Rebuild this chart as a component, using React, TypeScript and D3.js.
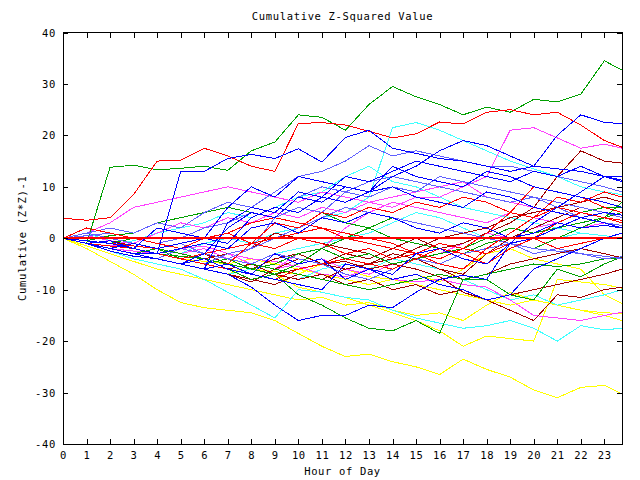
import React from 'react';
import * as d3 from 'd3';

// hour of day for every sample (last sample is 23:45)
const HOURS = [0, 1, 2, 3, 4, 5, 6, 7, 8, 9, 10, 11, 12, 13, 14, 15, 16, 17, 18, 19, 20, 21, 22, 23, 23.75];
const X_TICKS = d3.range(0, 24);
const Y_TICKS = [-40, -30, -20, -10, 0, 10, 20, 30, 40];

// cumulative (z*z)-1 per series
const green1 = [0, -1, 13.8, 14.2, 13.3, 13.6, 14, 13.2, 17, 18.7, 24, 23.5, 21, 26, 29.5, 27.5, 26, 24, 25.5, 24.5, 27, 26.5, 28, 34.5, 32.7];
const red1 = [3.9, 3.5, 4, 8.5, 15, 15.2, 17.5, 16, 14, 13, 22.3, 22.5, 22, 20.8, 19.5, 20.3, 22.6, 22.2, 24.5, 25, 24, 24.5, 22, 19, 17.7];
const blue1 = [0, -1, -2, -3, -3, 13, 13, 15.5, 16.3, 15.5, 17.4, 14.8, 19.6, 21, 17.5, 16.5, 15.5, 15, 14, 13, 14, 13.5, 13, 12, 11.3];
const blue2 = [0, -1, -2.5, -3.5, -4, -5, -3, 2, 5, 4, 8, 7, 10, 9, 12, 14, 17, 19, 18, 16, 14, 20, 24, 22.5, 22.3];
const cyan1 = [0, -1, -2, -3, -2, -3, -1, 0, -1, 1, 2, 4, 5, 8, 21.5, 22.5, 21, 19, 17, 15, 13.5, 12, 10, 9, 8.5];
const magenta1 = [0, 1, 0, -1, 1, 3, 2, 4, 3, 5, 4, 6, 5, 7, 6, 8, 8, 10, 12, 21, 21.5, 19.5, 17.5, 18.3, 17.5];
const slate1 = [0, 1, 2, 1, 3, 2, 5, 7, 6, 9, 12, 13, 15, 18, 16, 17, 16, 15, 14, 14, 13, 12, 11, 10, 9];
const blue3 = [0, -1, -2, -1, -2, -1, 0, 6, 10, 8, 12, 11, 10, 9, 14, 12, 11, 10, 13, 12, 10, 9, 8, 7, 6];
const darkred1 = [0, -1, -2, -3, -4, -5, -6, -7, -8, -7, -6, -5, -3, -4, -2, 0, -2, -1, 1, 3, 6, 12, 17, 15, 14.6];
const red2 = [0, -0.5, -1, -1.5, -2, -1, 0, 1, 3, 4, 3, 2, 1, 0, -1, -3, -5, -6, -2, 1, 4, 8, 7, 9, 8];
const green2 = [0, -1, -2, -3, -2, -4, -5, -4, -6, -5, -3, -2, -4, -3, -5, -4, -3, -2, 0, 2, 1, 3, 5, 6, 6];
const magenta2 = [0, -1, -1.5, -1, -2, -3, -2, -4, -5, -6, -3, -2, 2, 5, 7, 6, 5, 4, 3, 5, 4, 3, 2, 3, 2.5];
const blue4 = [0, -1, -0.5, -2, -3, -2, -1, -2, 2, 3, 1, 4, 3, 5, 4, 2, 1, 3, 2, 0, 1, 3, 2, 2.5, 2];
const cyan2 = [0, 1, -0.5, -1, -2, -3, -2, -4, -5, -3, -2, -1, 0, 1, 3, 5, 4, 2, 0, -1, -2, 0, 1, 0.5, 0];
const red3 = [0, 2, 1, 0, -1, -2, 0, 1, -1, -2, 0, -1, -3, -2, -4, -3, -1, -2, -3, -1, 0, -2, -1, 0, 1];
const darkred2 = [0, -0.5, -1, -2, -3, -4, -3, -5, -6, -4, -3, -5, -6, -5, -4, -2, 0, 1, 2, 4, 5, 6, 7, 8, 7];
const slate2 = [0, 1, 0, -1, -2, -1, -3, -4, -5, -3, -4, -5, -7, -8, -6, -4, -5, -3, -2, -1, -3, -2, -3, -4, -3.6];
const green3 = [0, -0.5, -1, 0, -1, -2, -3, -4, -5, -6, -7, -8, -9, -10, -9, -8, -7, -8, -7, -6, -5, -5.5, -5, -4, -3.9];
const darkred3 = [0, -1, -2, -3, -4, -5, -4, -6, -5, -7, -8, -7, -9, -8, -10, -9, -11, -10, -12, -11, -10, -9, -8, -7, -6];
const blue5 = [0, -1, -2, -3, -4, -5, -6, -7, -9.5, -13, -16, -15, -15, -13, -13.5, -10.5, -8, -7.2, -8, -1, 0, 2, 4, 5, 4.5];
const green4 = [0, -1, -1.5, -2, -3, -3.5, -4, -6, -8, -7, -11, -13, -15.5, -17.5, -18, -16, -18.5, -8, -8, -11, -12, -6, -7.5, -5, -3.6];
const cyan3 = [0, -1, -2.5, -4, -5, -6, -8, -10.5, -13, -15.5, -10, -10.5, -11.5, -12, -14, -15.5, -16.5, -17.5, -17, -16, -17.5, -20, -17, -17.8, -17.5];
const yellow1 = [0, -2, -4.5, -7, -10, -12.5, -13.5, -14, -14.5, -16, -18.5, -21, -23, -22.5, -24, -25, -26.5, -23.5, -25.5, -27, -29.5, -31, -29, -28.6, -30.3];
const yellow2 = [0, -1, -2, -3, -4, -5, -6, -7, -5, -7, -9.5, -10.5, -11.5, -13, -14.5, -16, -18, -21, -19, -19.5, -20, -8, -8.5, -9, -9.7];
const yellow3 = [0, -1.5, -3, -4.5, -6, -7, -8, -9, -10, -11, -12, -11.5, -13, -12.5, -14, -15, -14.5, -16, -13, -10.5, -12, -13, -14, -15, -16];
const magenta3 = [0, -1, -2, -2.5, -3, -2, -1.5, -3, -4, -4.5, -5.5, -7, -7.5, -6, -8, -8.5, -8, -9, -9.5, -12, -15, -15.5, -16, -15, -14.4];
const darkred4 = [0, -1, -2, -3, -4, -5, -6, -7, -8.5, -6, -4, -5, -4.5, -6, -5, -6, -7.5, -10.5, -12, -14, -16, -11, -11.5, -10, -9.5];
const yellow4 = [0, -0.5, -1, -2, -3, -4, -4.5, -5, -6, -6.5, -7, -5, -6, -7.5, -8, -7, -8.5, -6, -3, -2, -4, -5, -6, -11, -12.7];
const cyan4 = [0, -1, -2, -3, -4, -5, -6, -7, -6, -7, -8, -6, -5, -6, -4, -5, -6, -8, -10, -12, -11, -13, -12, -11, -10];
const blue6 = [0, -0.5, -1, -2, 2, 1, 0, -1, 4, 6, 5, 8, 7, 9, 10, 8, 7, 6, 9, 8, 6, 5, 4, 3, 2];
const slate3 = [0, 0.5, 1, 0, -1, 0, 2, 3, 5, 4, 8, 10, 9, 11, 12, 11, 10, 9, 8, 7, 8, 6, 4, 3, 2.5];
const red4 = [0, -1, -1.5, -2, -3, -4, -3, -2, -1, 0, 1, 2, 0, -1, -2, -3, -4, -2, 1, 5, 10, 9, 8, 6, 5];
const magenta4 = [0, 1, 3, 6, 7, 8, 9, 10, 9, 8, 7, 9, 8, 7, 8, 9, 10, 11, 8, 7, 6, 5, 4, 3, 2];
const darkred5 = [0, -1, -0.5, -1.5, -2, -3, -4, -3, -2, 1, 0, -1, -2, -3, -5, -4, -6, -7, -3, 0, 2, 4, 6, 5, 4];
const green5 = [0, -0.5, 0.5, 1, 3, 4, 5, 6, 5, 4, 6, 5, 3, 2, 0, -1, -2, -3, -1, 0, 1, 2, 3, 4, 5];
const cyan5 = [0, -0.5, -1, -0.5, 1, 2, 3, 5, 4, 6, 8, 9, 12, 14, 11, 10, 8, 6, 5, 4, 3, 2, 1, 0.5, 0];
const blue7 = [0, -1, -2, -3, -4, -5, -4, -6, -7, -3, -5, -4, -8, -6, -7, -3, -2, -4, -5, -1, 3, 6, 9, 12, 11];
const red5 = [0, -0.5, -1, -2, -3, -4, -5, -6, -7, -8, -6, -5, -4, -5, -6, -4, -2, -3, -5, -2, 0, 3, 5, 4, 3];
const slate4 = [0, -1, -1.5, -2, -3, -4, -5, -3, -2, 0, 2, 4, 6, 5, 4, 3, 2, 1, 0, -1, -2, -2.5, -3, -3.5, -4];
const blue8 = [0, -1, -2, -3, -4, -5, -6, -5, -7, -8, -9, -10, -5, -6, -8, -7, -9, -10, -12, -11, -6, -4, -2, 0, 1];
const yellow5 = [0, -1, -2, -3, -4, -5, -6, -5, -4, -5, -6, -7, -8, -9, -8, -9, -10, -11, -12, -13, -12, -13, -14, -14.5, -14.6];
const magenta5 = [0, 0.5, -0.5, -1, -2, -3, -4, -3, -5, -6, -5, -4, -6, -7, -5, -4, -3, -1, 1, 0, 2, 3, 2, 3, 2];
const darkred6 = [0, -1, -2, -3, -4, -5, -6, -7, -8, -9, -7, -8, -6, -5, -3, -4, -6, -8, -7, -5, -4, -3, -2, -3, -3.8];
const green6 = [0, 1, 0, -1, -2, -3, -4, -5, -6, -7, -5, -2, 0, 2, 4, 3, 2, 1, 0, -1, -2, 0, 2, 4, 7];
const blue9 = [0, -1, -2, -3, -4, -5, -6, 3, 6, 5, 9, 8, 12, 11, 13, 15, 14, 13, 12, 11, 13, 12, 14, 12, 12];
const slate5 = [0, -1, -2, -3, -4, -2, -3, -4, -2, 4, 6, 5, 9, 8, 10, 9, 12, 11, 10, 9, 8, 7, 6, 5, 4];
const red6 = [0, -1, -2, -3, -4, -5, -6, -5, -1, 3, 2, 5, 4, 6, 5, 7, 6, 8, 7, 5, 4, 6, 5, 4, 3.5];
const zeroLine = HOURS.map(() => 0);

const RED = '#ff0000';
const GREEN = '#00a000';
const BLUE = '#0000ff';
const MAGENTA = '#ff40ff';
const CYAN = '#40ffff';
const DARKRED = '#a00000';
const YELLOW = '#ffff00';
const SLATE = '#6060ff';

const LINES: [number[], string][] = [
  [yellow1, YELLOW], [yellow2, YELLOW], [yellow3, YELLOW], [yellow4, YELLOW], [yellow5, YELLOW],
  [cyan3, CYAN], [cyan4, CYAN], [cyan2, CYAN], [cyan5, CYAN], [cyan1, CYAN],
  [magenta3, MAGENTA], [magenta5, MAGENTA], [magenta2, MAGENTA], [magenta4, MAGENTA], [magenta1, MAGENTA],
  [darkred4, DARKRED], [darkred6, DARKRED], [darkred3, DARKRED], [darkred5, DARKRED], [darkred2, DARKRED], [darkred1, DARKRED],
  [green4, GREEN], [green3, GREEN], [green2, GREEN], [green6, GREEN], [green5, GREEN], [green1, GREEN],
  [slate4, SLATE], [slate2, SLATE], [slate5, SLATE], [slate3, SLATE], [slate1, SLATE],
  [red5, RED], [red3, RED], [red6, RED], [red4, RED], [red2, RED], [red1, RED],
  [blue8, BLUE], [blue5, BLUE], [blue7, BLUE], [blue4, BLUE], [blue6, BLUE], [blue9, BLUE], [blue3, BLUE], [blue2, BLUE], [blue1, BLUE],
];

const W = 640;
const H = 480;
const FONT = '"DejaVu Sans Mono", monospace';

export default function App() {
  const x = d3.scaleLinear().domain([0, 23.75]).range([63, 622]);
  const y = d3.scaleLinear().domain([-40, 40]).range([444, 32.5]);
  const line = d3.line<number>().x((_, i) => x(HOURS[i])).y(d => y(d));
  const [x0, x1] = x.range();
  const [y0, y1] = y.range();
  const txt = { fontFamily: FONT, fontSize: 10.5, letterSpacing: 0.65, fill: '#000' };

  return (
    <svg width={W} height={H} style={{ position: 'absolute', left: 0, top: 0, background: '#fff' }}>
      <text x={(x0 + x1) / 2} y={19.5} textAnchor="middle" {...txt}>Cumulative Z-Squared Value</text>

      <g fill="none" strokeWidth={1} shapeRendering="crispEdges">
        {LINES.map(([vals, color], i) => (
          <path key={i} d={line(vals) || ''} stroke={color} />
        ))}
        <path d={line(zeroLine) || ''} stroke={RED} strokeWidth={2} />
      </g>

      <g stroke="#000" strokeWidth={1} shapeRendering="crispEdges">
        <rect x={x0 + 0.5} y={y1} width={x1 - x0} height={y0 - y1} fill="none" />
        {X_TICKS.map(t => (
          <g key={t}>
            <line x1={Math.round(x(t)) + 0.5} x2={Math.round(x(t)) + 0.5} y1={y0} y2={y0 - 5} />
            <line x1={Math.round(x(t)) + 0.5} x2={Math.round(x(t)) + 0.5} y1={y1} y2={y1 + 5} />
          </g>
        ))}
        {Y_TICKS.map(t => (
          <g key={t}>
            <line x1={x0} x2={x0 + 5} y1={Math.round(y(t)) + 0.5} y2={Math.round(y(t)) + 0.5} />
            <line x1={x1} x2={x1 - 5} y1={Math.round(y(t)) + 0.5} y2={Math.round(y(t)) + 0.5} />
          </g>
        ))}
      </g>

      {X_TICKS.map(t => (
        <text key={t} x={x(t) + 0.5} y={458.5} textAnchor="middle" {...txt}>{t}</text>
      ))}
      {Y_TICKS.map(t => (
        <text key={t} x={56} y={y(t) + 4} textAnchor="end" {...txt}>{t}</text>
      ))}
      <text x={(x0 + x1) / 2} y={474.5} textAnchor="middle" {...txt}>Hour of Day</text>
      <text transform={`translate(26,${(y0 + y1) / 2}) rotate(-90)`} textAnchor="middle" {...txt}>Cumulative (Z*Z)-1</text>
    </svg>
  );
}
